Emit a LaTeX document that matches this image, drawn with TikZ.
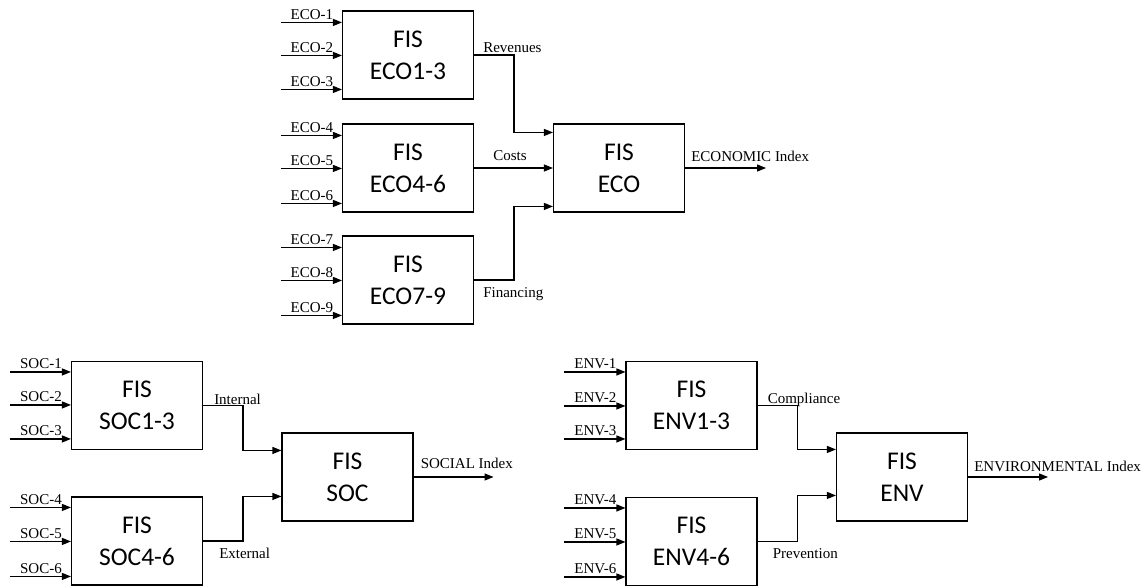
\documentclass[tikz,border=0pt]{standalone}
\usepackage{fontspec}
\setmainfont{Liberation Serif}
\newfontfamily\boxfont{Carlito}
\usetikzlibrary{arrows.meta,calc}
\newcommand\fisin[3]{% #1 node, #2 offset from top, #3 label
  \coordinate (#1-in#2) at ($(#1.north west)+(-61,#2)$);
  \draw[conn] (#1-in#2) -- (#1-in#2 -| #1.west);
  \node[lbl,anchor=base] (#1-lab#2) at ($(#1.north west)+(-30,#2-3)$) {#3};
}
\begin{document}
\begin{tikzpicture}[x=1pt,y=-1pt,
  fis/.style={draw,line width=1.1pt,minimum width=131pt,minimum height=88pt,inner sep=0pt,align=center,font=\boxfont\fontsize{25.5}{32}\selectfont},
  conn/.style={line width=1.2pt,-{Triangle[length=9pt,width=7pt]}},
  lbl/.style={font=\fontsize{15}{16}\selectfont,inner sep=0pt},
]
\useasboundingbox (0,0) rectangle (1148,588);

% ---------- ECONOMIC ----------
\node[fis] (eco13) at (408,55) {FIS\\ECO1-3};
\node[fis] (eco46) at (408,168) {FIS\\ECO4-6};
\node[fis] (eco79) at (408,280) {FIS\\ECO7-9};
\node[fis] (eco) at (619,168) {FIS\\ECO};

\fisin{eco13}{12}{ECO-1}\fisin{eco13}{45}{ECO-2}\fisin{eco13}{79}{ECO-3}
\fisin{eco46}{12}{ECO-4}\fisin{eco46}{45}{ECO-5}\fisin{eco46}{80}{ECO-6}
\fisin{eco79}{12}{ECO-7}\fisin{eco79}{45}{ECO-8}\fisin{eco79}{80}{ECO-9}

\draw[conn] (eco13.east) -- ++(40,0) |- ($(eco.north west)+(0,9)$);
\draw[conn] (eco46.east) -- (eco46.east -| eco.west);
\draw[conn] (eco79.east) -- ++(40,0) |- ($(eco.north west)+(0,83)$);
\coordinate (ecoout) at ($(eco.east)+(81,0)$);
\draw[conn] (eco.east) -- (ecoout);

\node[lbl,anchor=base west] (revl) at ($(eco13.east)+(9,-2)$) {Revenues};
\node[lbl,anchor=base west] (costl) at ($(eco46.east)+(19,-7)$) {Costs};
\node[lbl,anchor=base west] (finl) at ($(eco79.east)+(9,17)$) {Financing};
\node[lbl,anchor=base west] (ecol) at ($(eco.east)+(6,-6)$) {ECONOMIC Index};

% ---------- SOCIAL ----------
\node[fis] (soc13) at (137,405.5) {FIS\\SOC1-3};
\node[fis] (soc46) at (137,541) {FIS\\SOC4-6};
\node[fis] (soc) at (347.5,477) {FIS\\SOC};

\fisin{soc13}{11}{SOC-1}\fisin{soc13}{44}{SOC-2}\fisin{soc13}{78}{SOC-3}
\fisin{soc46}{11}{SOC-4}\fisin{soc46}{45}{SOC-5}\fisin{soc46}{80}{SOC-6}

\draw[conn] (soc13.east) -- ++(40,0) |- ($(soc.north west)+(0,18)$);
\draw[conn] (soc46.east) -- ++(40,0) |- ($(soc.north west)+(0,64)$);
\coordinate (socout) at ($(soc.east)+(80,0)$);
\draw[conn] (soc.east) -- (socout);

\node[lbl,anchor=base west] (intl) at ($(soc13.east)+(11,-1.5)$) {Internal};
\node[lbl,anchor=base west] (extl) at ($(soc46.east)+(16,17)$) {External};
\node[lbl,anchor=base west] (socl) at ($(soc.east)+(7,-9)$) {SOCIAL Index};

% ---------- ENVIRONMENTAL ----------
\node[fis] (env13) at (691.5,405.5) {FIS\\ENV1-3};
\node[fis] (env46) at (691.5,541.5) {FIS\\ENV4-6};
\node[fis] (env) at (902,477) {FIS\\ENV};

\fisin{env13}{11}{ENV-1}\fisin{env13}{45}{ENV-2}\fisin{env13}{78}{ENV-3}
\fisin{env46}{11}{ENV-4}\fisin{env46}{45}{ENV-5}\fisin{env46}{80}{ENV-6}

\draw[conn] (env13.east) -- ++(40,0) |- ($(env.north west)+(0,17)$);
\draw[conn] (env46.east) -- ++(40,0) |- ($(env.north west)+(0,63)$);
\coordinate (envout) at ($(env.east)+(80,0)$);
\draw[conn] (env.east) -- (envout);

\node[lbl,anchor=base west] (coml) at ($(env13.east)+(10,-2.5)$) {Compliance};
\node[lbl,anchor=base west] (prevl) at ($(env46.east)+(15,17)$) {Prevention};
\node[lbl,anchor=base west] (envl) at ($(env.east)+(6,-6)$) {ENVIRONMENTAL Index};
\end{tikzpicture}
\end{document}
